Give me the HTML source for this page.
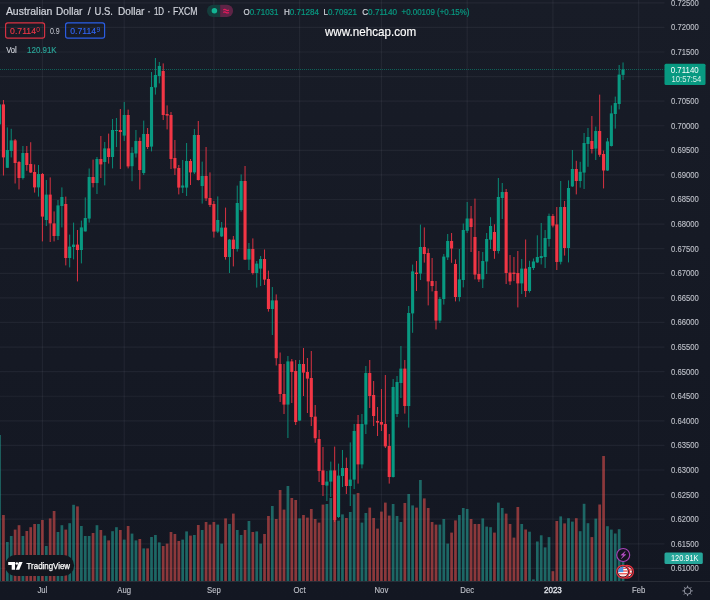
<!DOCTYPE html><html><head><meta charset="utf-8"><title>AUDUSD</title><style>html,body{margin:0;padding:0;background:#151924;}body{width:710px;height:600px;overflow:hidden}svg{display:block;will-change:transform}text{font-family:"Liberation Sans","DejaVu Sans",sans-serif}</style></head><body>
<svg width="710" height="600" viewBox="0 0 710 600">
<defs><linearGradient id="bg" x1="0" y1="0" x2="0" y2="1"><stop offset="0" stop-color="#181c27"/><stop offset="1" stop-color="#131722"/></linearGradient></defs>
<rect width="710" height="600" fill="url(#bg)"/>
<g stroke="#f0f3fa" stroke-opacity="0.055" stroke-width="1.2">
<line x1="0" y1="2.80" x2="664.5" y2="2.80"/>
<line x1="0" y1="27.39" x2="664.5" y2="27.39"/>
<line x1="0" y1="51.98" x2="664.5" y2="51.98"/>
<line x1="0" y1="76.57" x2="664.5" y2="76.57"/>
<line x1="0" y1="101.16" x2="664.5" y2="101.16"/>
<line x1="0" y1="125.75" x2="664.5" y2="125.75"/>
<line x1="0" y1="150.34" x2="664.5" y2="150.34"/>
<line x1="0" y1="174.93" x2="664.5" y2="174.93"/>
<line x1="0" y1="199.52" x2="664.5" y2="199.52"/>
<line x1="0" y1="224.11" x2="664.5" y2="224.11"/>
<line x1="0" y1="248.70" x2="664.5" y2="248.70"/>
<line x1="0" y1="273.29" x2="664.5" y2="273.29"/>
<line x1="0" y1="297.88" x2="664.5" y2="297.88"/>
<line x1="0" y1="322.47" x2="664.5" y2="322.47"/>
<line x1="0" y1="347.06" x2="664.5" y2="347.06"/>
<line x1="0" y1="371.65" x2="664.5" y2="371.65"/>
<line x1="0" y1="396.24" x2="664.5" y2="396.24"/>
<line x1="0" y1="420.83" x2="664.5" y2="420.83"/>
<line x1="0" y1="445.42" x2="664.5" y2="445.42"/>
<line x1="0" y1="470.01" x2="664.5" y2="470.01"/>
<line x1="0" y1="494.60" x2="664.5" y2="494.60"/>
<line x1="0" y1="519.19" x2="664.5" y2="519.19"/>
<line x1="0" y1="543.78" x2="664.5" y2="543.78"/>
<line x1="0" y1="568.37" x2="664.5" y2="568.37"/>
<line x1="42.40" y1="0" x2="42.40" y2="581.0"/>
<line x1="124.24" y1="0" x2="124.24" y2="581.0"/>
<line x1="213.87" y1="0" x2="213.87" y2="581.0"/>
<line x1="299.60" y1="0" x2="299.60" y2="581.0"/>
<line x1="381.44" y1="0" x2="381.44" y2="581.0"/>
<line x1="467.17" y1="0" x2="467.17" y2="581.0"/>
<line x1="552.91" y1="0" x2="552.91" y2="581.0"/>
<line x1="638.64" y1="0" x2="638.64" y2="581.0"/>
</g>
<g>
<rect x="-1.82" y="435.00" width="2.7" height="146.00" fill="#26a69a" fill-opacity="0.56"/>
<rect x="2.08" y="515.00" width="2.7" height="66.00" fill="#ef5350" fill-opacity="0.55"/>
<rect x="5.98" y="542.00" width="2.7" height="39.00" fill="#26a69a" fill-opacity="0.56"/>
<rect x="9.87" y="536.00" width="2.7" height="45.00" fill="#26a69a" fill-opacity="0.56"/>
<rect x="13.77" y="529.60" width="2.7" height="51.40" fill="#ef5350" fill-opacity="0.55"/>
<rect x="17.67" y="525.20" width="2.7" height="55.80" fill="#ef5350" fill-opacity="0.55"/>
<rect x="21.56" y="536.00" width="2.7" height="45.00" fill="#26a69a" fill-opacity="0.56"/>
<rect x="25.46" y="531.00" width="2.7" height="50.00" fill="#ef5350" fill-opacity="0.55"/>
<rect x="29.36" y="527.20" width="2.7" height="53.80" fill="#ef5350" fill-opacity="0.55"/>
<rect x="33.26" y="524.00" width="2.7" height="57.00" fill="#ef5350" fill-opacity="0.55"/>
<rect x="37.15" y="524.00" width="2.7" height="57.00" fill="#26a69a" fill-opacity="0.56"/>
<rect x="41.05" y="520.00" width="2.7" height="61.00" fill="#ef5350" fill-opacity="0.55"/>
<rect x="44.95" y="546.00" width="2.7" height="35.00" fill="#26a69a" fill-opacity="0.56"/>
<rect x="48.84" y="518.40" width="2.7" height="62.60" fill="#ef5350" fill-opacity="0.55"/>
<rect x="52.74" y="511.00" width="2.7" height="70.00" fill="#ef5350" fill-opacity="0.55"/>
<rect x="56.64" y="532.00" width="2.7" height="49.00" fill="#26a69a" fill-opacity="0.56"/>
<rect x="60.53" y="525.20" width="2.7" height="55.80" fill="#26a69a" fill-opacity="0.56"/>
<rect x="64.43" y="529.60" width="2.7" height="51.40" fill="#ef5350" fill-opacity="0.55"/>
<rect x="68.33" y="523.20" width="2.7" height="57.80" fill="#26a69a" fill-opacity="0.56"/>
<rect x="72.23" y="504.80" width="2.7" height="76.20" fill="#26a69a" fill-opacity="0.56"/>
<rect x="76.12" y="506.40" width="2.7" height="74.60" fill="#ef5350" fill-opacity="0.55"/>
<rect x="80.02" y="526.00" width="2.7" height="55.00" fill="#26a69a" fill-opacity="0.56"/>
<rect x="83.92" y="536.00" width="2.7" height="45.00" fill="#26a69a" fill-opacity="0.56"/>
<rect x="87.81" y="536.00" width="2.7" height="45.00" fill="#26a69a" fill-opacity="0.56"/>
<rect x="91.71" y="533.00" width="2.7" height="48.00" fill="#ef5350" fill-opacity="0.55"/>
<rect x="95.61" y="525.20" width="2.7" height="55.80" fill="#26a69a" fill-opacity="0.56"/>
<rect x="99.50" y="530.00" width="2.7" height="51.00" fill="#ef5350" fill-opacity="0.55"/>
<rect x="103.40" y="535.60" width="2.7" height="45.40" fill="#26a69a" fill-opacity="0.56"/>
<rect x="107.30" y="540.40" width="2.7" height="40.60" fill="#ef5350" fill-opacity="0.55"/>
<rect x="111.20" y="531.20" width="2.7" height="49.80" fill="#26a69a" fill-opacity="0.56"/>
<rect x="115.09" y="527.20" width="2.7" height="53.80" fill="#26a69a" fill-opacity="0.56"/>
<rect x="118.99" y="530.00" width="2.7" height="51.00" fill="#ef5350" fill-opacity="0.55"/>
<rect x="122.89" y="539.60" width="2.7" height="41.40" fill="#26a69a" fill-opacity="0.56"/>
<rect x="126.78" y="526.00" width="2.7" height="55.00" fill="#ef5350" fill-opacity="0.55"/>
<rect x="130.68" y="533.60" width="2.7" height="47.40" fill="#26a69a" fill-opacity="0.56"/>
<rect x="134.58" y="540.40" width="2.7" height="40.60" fill="#26a69a" fill-opacity="0.56"/>
<rect x="138.47" y="539.00" width="2.7" height="42.00" fill="#ef5350" fill-opacity="0.55"/>
<rect x="142.37" y="548.40" width="2.7" height="32.60" fill="#26a69a" fill-opacity="0.56"/>
<rect x="146.27" y="548.40" width="2.7" height="32.60" fill="#ef5350" fill-opacity="0.55"/>
<rect x="150.17" y="537.00" width="2.7" height="44.00" fill="#26a69a" fill-opacity="0.56"/>
<rect x="154.06" y="535.00" width="2.7" height="46.00" fill="#26a69a" fill-opacity="0.56"/>
<rect x="157.96" y="542.40" width="2.7" height="38.60" fill="#26a69a" fill-opacity="0.56"/>
<rect x="161.86" y="546.00" width="2.7" height="35.00" fill="#ef5350" fill-opacity="0.55"/>
<rect x="165.75" y="543.60" width="2.7" height="37.40" fill="#ef5350" fill-opacity="0.55"/>
<rect x="169.65" y="532.00" width="2.7" height="49.00" fill="#ef5350" fill-opacity="0.55"/>
<rect x="173.55" y="534.00" width="2.7" height="47.00" fill="#ef5350" fill-opacity="0.55"/>
<rect x="177.44" y="541.00" width="2.7" height="40.00" fill="#ef5350" fill-opacity="0.55"/>
<rect x="181.34" y="539.60" width="2.7" height="41.40" fill="#26a69a" fill-opacity="0.56"/>
<rect x="185.24" y="531.40" width="2.7" height="49.60" fill="#26a69a" fill-opacity="0.56"/>
<rect x="189.14" y="535.60" width="2.7" height="45.40" fill="#ef5350" fill-opacity="0.55"/>
<rect x="193.03" y="535.00" width="2.7" height="46.00" fill="#26a69a" fill-opacity="0.56"/>
<rect x="196.93" y="525.00" width="2.7" height="56.00" fill="#ef5350" fill-opacity="0.55"/>
<rect x="200.83" y="530.00" width="2.7" height="51.00" fill="#26a69a" fill-opacity="0.56"/>
<rect x="204.72" y="522.00" width="2.7" height="59.00" fill="#ef5350" fill-opacity="0.55"/>
<rect x="208.62" y="524.60" width="2.7" height="56.40" fill="#ef5350" fill-opacity="0.55"/>
<rect x="212.52" y="522.00" width="2.7" height="59.00" fill="#ef5350" fill-opacity="0.55"/>
<rect x="216.41" y="524.60" width="2.7" height="56.40" fill="#26a69a" fill-opacity="0.56"/>
<rect x="220.31" y="543.60" width="2.7" height="37.40" fill="#26a69a" fill-opacity="0.56"/>
<rect x="224.21" y="518.40" width="2.7" height="62.60" fill="#ef5350" fill-opacity="0.55"/>
<rect x="228.11" y="524.00" width="2.7" height="57.00" fill="#26a69a" fill-opacity="0.56"/>
<rect x="232.00" y="513.60" width="2.7" height="67.40" fill="#ef5350" fill-opacity="0.55"/>
<rect x="235.90" y="530.00" width="2.7" height="51.00" fill="#26a69a" fill-opacity="0.56"/>
<rect x="239.80" y="535.00" width="2.7" height="46.00" fill="#26a69a" fill-opacity="0.56"/>
<rect x="243.69" y="530.00" width="2.7" height="51.00" fill="#ef5350" fill-opacity="0.55"/>
<rect x="247.59" y="521.00" width="2.7" height="60.00" fill="#26a69a" fill-opacity="0.56"/>
<rect x="251.49" y="532.00" width="2.7" height="49.00" fill="#ef5350" fill-opacity="0.55"/>
<rect x="255.38" y="531.40" width="2.7" height="49.60" fill="#26a69a" fill-opacity="0.56"/>
<rect x="259.28" y="543.60" width="2.7" height="37.40" fill="#26a69a" fill-opacity="0.56"/>
<rect x="263.18" y="534.00" width="2.7" height="47.00" fill="#ef5350" fill-opacity="0.55"/>
<rect x="267.08" y="516.00" width="2.7" height="65.00" fill="#ef5350" fill-opacity="0.55"/>
<rect x="270.97" y="506.00" width="2.7" height="75.00" fill="#26a69a" fill-opacity="0.56"/>
<rect x="274.87" y="519.00" width="2.7" height="62.00" fill="#ef5350" fill-opacity="0.55"/>
<rect x="278.77" y="490.00" width="2.7" height="91.00" fill="#ef5350" fill-opacity="0.55"/>
<rect x="282.66" y="509.60" width="2.7" height="71.40" fill="#ef5350" fill-opacity="0.55"/>
<rect x="286.56" y="486.00" width="2.7" height="95.00" fill="#26a69a" fill-opacity="0.56"/>
<rect x="290.46" y="498.00" width="2.7" height="83.00" fill="#ef5350" fill-opacity="0.55"/>
<rect x="294.35" y="500.00" width="2.7" height="81.00" fill="#ef5350" fill-opacity="0.55"/>
<rect x="298.25" y="518.40" width="2.7" height="62.60" fill="#26a69a" fill-opacity="0.56"/>
<rect x="302.15" y="515.00" width="2.7" height="66.00" fill="#ef5350" fill-opacity="0.55"/>
<rect x="306.05" y="517.60" width="2.7" height="63.40" fill="#ef5350" fill-opacity="0.55"/>
<rect x="309.94" y="509.00" width="2.7" height="72.00" fill="#ef5350" fill-opacity="0.55"/>
<rect x="313.84" y="519.00" width="2.7" height="62.00" fill="#ef5350" fill-opacity="0.55"/>
<rect x="317.74" y="522.60" width="2.7" height="58.40" fill="#ef5350" fill-opacity="0.55"/>
<rect x="321.63" y="504.60" width="2.7" height="76.40" fill="#ef5350" fill-opacity="0.55"/>
<rect x="325.53" y="504.00" width="2.7" height="77.00" fill="#26a69a" fill-opacity="0.56"/>
<rect x="329.43" y="498.00" width="2.7" height="83.00" fill="#26a69a" fill-opacity="0.56"/>
<rect x="333.32" y="520.00" width="2.7" height="61.00" fill="#ef5350" fill-opacity="0.55"/>
<rect x="337.22" y="520.60" width="2.7" height="60.40" fill="#26a69a" fill-opacity="0.56"/>
<rect x="341.12" y="514.40" width="2.7" height="66.60" fill="#26a69a" fill-opacity="0.56"/>
<rect x="345.02" y="518.00" width="2.7" height="63.00" fill="#ef5350" fill-opacity="0.55"/>
<rect x="348.91" y="512.00" width="2.7" height="69.00" fill="#26a69a" fill-opacity="0.56"/>
<rect x="352.81" y="494.40" width="2.7" height="86.60" fill="#26a69a" fill-opacity="0.56"/>
<rect x="356.71" y="493.00" width="2.7" height="88.00" fill="#ef5350" fill-opacity="0.55"/>
<rect x="360.60" y="522.60" width="2.7" height="58.40" fill="#26a69a" fill-opacity="0.56"/>
<rect x="364.50" y="513.00" width="2.7" height="68.00" fill="#26a69a" fill-opacity="0.56"/>
<rect x="368.40" y="507.60" width="2.7" height="73.40" fill="#ef5350" fill-opacity="0.55"/>
<rect x="372.29" y="518.00" width="2.7" height="63.00" fill="#ef5350" fill-opacity="0.55"/>
<rect x="376.19" y="528.60" width="2.7" height="52.40" fill="#ef5350" fill-opacity="0.55"/>
<rect x="380.09" y="511.60" width="2.7" height="69.40" fill="#ef5350" fill-opacity="0.55"/>
<rect x="383.99" y="502.60" width="2.7" height="78.40" fill="#ef5350" fill-opacity="0.55"/>
<rect x="387.88" y="515.60" width="2.7" height="65.40" fill="#ef5350" fill-opacity="0.55"/>
<rect x="391.78" y="504.00" width="2.7" height="77.00" fill="#26a69a" fill-opacity="0.56"/>
<rect x="395.68" y="516.00" width="2.7" height="65.00" fill="#26a69a" fill-opacity="0.56"/>
<rect x="399.57" y="522.00" width="2.7" height="59.00" fill="#26a69a" fill-opacity="0.56"/>
<rect x="403.47" y="503.00" width="2.7" height="78.00" fill="#ef5350" fill-opacity="0.55"/>
<rect x="407.37" y="494.00" width="2.7" height="87.00" fill="#26a69a" fill-opacity="0.56"/>
<rect x="411.26" y="505.40" width="2.7" height="75.60" fill="#26a69a" fill-opacity="0.56"/>
<rect x="415.16" y="507.60" width="2.7" height="73.40" fill="#ef5350" fill-opacity="0.55"/>
<rect x="419.06" y="480.00" width="2.7" height="101.00" fill="#26a69a" fill-opacity="0.56"/>
<rect x="422.96" y="498.40" width="2.7" height="82.60" fill="#ef5350" fill-opacity="0.55"/>
<rect x="426.85" y="508.00" width="2.7" height="73.00" fill="#ef5350" fill-opacity="0.55"/>
<rect x="430.75" y="522.00" width="2.7" height="59.00" fill="#ef5350" fill-opacity="0.55"/>
<rect x="434.65" y="524.60" width="2.7" height="56.40" fill="#ef5350" fill-opacity="0.55"/>
<rect x="438.54" y="524.60" width="2.7" height="56.40" fill="#26a69a" fill-opacity="0.56"/>
<rect x="442.44" y="519.00" width="2.7" height="62.00" fill="#26a69a" fill-opacity="0.56"/>
<rect x="446.34" y="543.60" width="2.7" height="37.40" fill="#26a69a" fill-opacity="0.56"/>
<rect x="450.23" y="532.60" width="2.7" height="48.40" fill="#ef5350" fill-opacity="0.55"/>
<rect x="454.13" y="520.40" width="2.7" height="60.60" fill="#ef5350" fill-opacity="0.55"/>
<rect x="458.03" y="515.00" width="2.7" height="66.00" fill="#26a69a" fill-opacity="0.56"/>
<rect x="461.93" y="508.00" width="2.7" height="73.00" fill="#26a69a" fill-opacity="0.56"/>
<rect x="465.82" y="509.00" width="2.7" height="72.00" fill="#26a69a" fill-opacity="0.56"/>
<rect x="469.72" y="519.00" width="2.7" height="62.00" fill="#ef5350" fill-opacity="0.55"/>
<rect x="473.62" y="524.00" width="2.7" height="57.00" fill="#ef5350" fill-opacity="0.55"/>
<rect x="477.51" y="524.00" width="2.7" height="57.00" fill="#ef5350" fill-opacity="0.55"/>
<rect x="481.41" y="518.40" width="2.7" height="62.60" fill="#26a69a" fill-opacity="0.56"/>
<rect x="485.31" y="526.60" width="2.7" height="54.40" fill="#26a69a" fill-opacity="0.56"/>
<rect x="489.20" y="527.20" width="2.7" height="53.80" fill="#26a69a" fill-opacity="0.56"/>
<rect x="493.10" y="532.60" width="2.7" height="48.40" fill="#ef5350" fill-opacity="0.55"/>
<rect x="497.00" y="502.60" width="2.7" height="78.40" fill="#26a69a" fill-opacity="0.56"/>
<rect x="500.90" y="508.00" width="2.7" height="73.00" fill="#26a69a" fill-opacity="0.56"/>
<rect x="504.79" y="513.60" width="2.7" height="67.40" fill="#ef5350" fill-opacity="0.55"/>
<rect x="508.69" y="524.00" width="2.7" height="57.00" fill="#ef5350" fill-opacity="0.55"/>
<rect x="512.59" y="537.60" width="2.7" height="43.40" fill="#ef5350" fill-opacity="0.55"/>
<rect x="516.48" y="507.00" width="2.7" height="74.00" fill="#ef5350" fill-opacity="0.55"/>
<rect x="520.38" y="524.00" width="2.7" height="57.00" fill="#26a69a" fill-opacity="0.56"/>
<rect x="524.28" y="529.50" width="2.7" height="51.50" fill="#ef5350" fill-opacity="0.55"/>
<rect x="528.17" y="531.70" width="2.7" height="49.30" fill="#26a69a" fill-opacity="0.56"/>
<rect x="532.07" y="579.40" width="2.7" height="1.60" fill="#26a69a" fill-opacity="0.56"/>
<rect x="535.97" y="541.50" width="2.7" height="39.50" fill="#26a69a" fill-opacity="0.56"/>
<rect x="539.87" y="535.30" width="2.7" height="45.70" fill="#26a69a" fill-opacity="0.56"/>
<rect x="543.76" y="547.40" width="2.7" height="33.60" fill="#26a69a" fill-opacity="0.56"/>
<rect x="547.66" y="537.10" width="2.7" height="43.90" fill="#26a69a" fill-opacity="0.56"/>
<rect x="551.56" y="571.20" width="2.7" height="9.80" fill="#ef5350" fill-opacity="0.55"/>
<rect x="555.45" y="521.00" width="2.7" height="60.00" fill="#ef5350" fill-opacity="0.55"/>
<rect x="559.35" y="516.40" width="2.7" height="64.60" fill="#26a69a" fill-opacity="0.56"/>
<rect x="563.25" y="523.40" width="2.7" height="57.60" fill="#ef5350" fill-opacity="0.55"/>
<rect x="567.14" y="518.20" width="2.7" height="62.80" fill="#26a69a" fill-opacity="0.56"/>
<rect x="571.04" y="521.60" width="2.7" height="59.40" fill="#26a69a" fill-opacity="0.56"/>
<rect x="574.94" y="518.20" width="2.7" height="62.80" fill="#ef5350" fill-opacity="0.55"/>
<rect x="578.84" y="531.20" width="2.7" height="49.80" fill="#26a69a" fill-opacity="0.56"/>
<rect x="582.73" y="503.80" width="2.7" height="77.20" fill="#26a69a" fill-opacity="0.56"/>
<rect x="586.63" y="523.20" width="2.7" height="57.80" fill="#26a69a" fill-opacity="0.56"/>
<rect x="590.53" y="537.10" width="2.7" height="43.90" fill="#ef5350" fill-opacity="0.55"/>
<rect x="594.42" y="518.60" width="2.7" height="62.40" fill="#26a69a" fill-opacity="0.56"/>
<rect x="598.32" y="504.50" width="2.7" height="76.50" fill="#ef5350" fill-opacity="0.55"/>
<rect x="602.22" y="456.00" width="2.7" height="125.00" fill="#ef5350" fill-opacity="0.55"/>
<rect x="606.11" y="526.20" width="2.7" height="54.80" fill="#26a69a" fill-opacity="0.56"/>
<rect x="610.01" y="529.60" width="2.7" height="51.40" fill="#26a69a" fill-opacity="0.56"/>
<rect x="613.91" y="533.50" width="2.7" height="47.50" fill="#26a69a" fill-opacity="0.56"/>
<rect x="617.81" y="529.20" width="2.7" height="51.80" fill="#26a69a" fill-opacity="0.56"/>
<rect x="621.70" y="558.00" width="2.7" height="23.00" fill="#26a69a" fill-opacity="0.56"/>
</g>
<line x1="0" y1="69.5" x2="664.5" y2="69.5" stroke="#089981" stroke-width="1" stroke-dasharray="1 1" opacity="0.56"/>
<g>
<rect x="-0.97" y="100.00" width="1" height="30.00" fill="#089981" opacity="0.88"/>
<rect x="-2.02" y="104.40" width="3.1" height="20.00" fill="#089981"/>
<rect x="2.93" y="100.00" width="1" height="75.50" fill="#f23645" opacity="0.88"/>
<rect x="1.88" y="104.40" width="3.1" height="53.00" fill="#f23645"/>
<rect x="6.83" y="127.40" width="1" height="40.60" fill="#089981" opacity="0.88"/>
<rect x="5.78" y="150.00" width="3.1" height="17.80" fill="#089981"/>
<rect x="10.72" y="128.80" width="1" height="28.60" fill="#089981" opacity="0.88"/>
<rect x="9.67" y="140.40" width="3.1" height="10.60" fill="#089981"/>
<rect x="14.62" y="139.00" width="1" height="44.50" fill="#f23645" opacity="0.88"/>
<rect x="13.57" y="140.40" width="3.1" height="22.60" fill="#f23645"/>
<rect x="18.52" y="161.00" width="1" height="28.40" fill="#f23645" opacity="0.88"/>
<rect x="17.47" y="162.00" width="3.1" height="16.00" fill="#f23645"/>
<rect x="22.41" y="146.00" width="1" height="33.50" fill="#089981" opacity="0.88"/>
<rect x="21.36" y="153.00" width="3.1" height="25.00" fill="#089981"/>
<rect x="26.31" y="146.00" width="1" height="24.80" fill="#f23645" opacity="0.88"/>
<rect x="25.26" y="153.00" width="3.1" height="12.00" fill="#f23645"/>
<rect x="30.21" y="142.20" width="1" height="30.80" fill="#f23645" opacity="0.88"/>
<rect x="29.16" y="164.00" width="3.1" height="8.50" fill="#f23645"/>
<rect x="34.11" y="164.40" width="1" height="28.20" fill="#f23645" opacity="0.88"/>
<rect x="33.06" y="172.00" width="3.1" height="15.40" fill="#f23645"/>
<rect x="38.00" y="165.00" width="1" height="31.60" fill="#089981" opacity="0.88"/>
<rect x="36.95" y="174.00" width="3.1" height="13.40" fill="#089981"/>
<rect x="41.90" y="173.00" width="1" height="68.40" fill="#f23645" opacity="0.88"/>
<rect x="40.85" y="174.00" width="3.1" height="42.60" fill="#f23645"/>
<rect x="45.80" y="180.00" width="1" height="46.00" fill="#089981" opacity="0.88"/>
<rect x="44.75" y="194.60" width="3.1" height="25.40" fill="#089981"/>
<rect x="49.69" y="177.40" width="1" height="64.60" fill="#f23645" opacity="0.88"/>
<rect x="48.64" y="194.60" width="3.1" height="28.80" fill="#f23645"/>
<rect x="53.59" y="211.40" width="1" height="30.00" fill="#f23645" opacity="0.88"/>
<rect x="52.54" y="223.40" width="3.1" height="12.60" fill="#f23645"/>
<rect x="57.49" y="200.00" width="1" height="40.00" fill="#089981" opacity="0.88"/>
<rect x="56.44" y="205.40" width="3.1" height="30.60" fill="#089981"/>
<rect x="61.38" y="187.40" width="1" height="40.00" fill="#089981" opacity="0.88"/>
<rect x="60.34" y="197.00" width="3.1" height="9.00" fill="#089981"/>
<rect x="65.28" y="196.60" width="1" height="68.80" fill="#f23645" opacity="0.88"/>
<rect x="64.23" y="204.00" width="3.1" height="54.00" fill="#f23645"/>
<rect x="69.18" y="234.60" width="1" height="32.80" fill="#089981" opacity="0.88"/>
<rect x="68.13" y="246.60" width="3.1" height="11.40" fill="#089981"/>
<rect x="73.08" y="222.60" width="1" height="36.80" fill="#089981" opacity="0.88"/>
<rect x="72.03" y="244.60" width="3.1" height="2.40" fill="#089981"/>
<rect x="76.97" y="230.00" width="1" height="51.40" fill="#f23645" opacity="0.88"/>
<rect x="75.92" y="244.60" width="3.1" height="5.40" fill="#f23645"/>
<rect x="80.87" y="220.60" width="1" height="42.80" fill="#089981" opacity="0.88"/>
<rect x="79.82" y="227.40" width="3.1" height="22.60" fill="#089981"/>
<rect x="84.77" y="197.40" width="1" height="34.20" fill="#089981" opacity="0.88"/>
<rect x="83.72" y="218.00" width="3.1" height="13.40" fill="#089981"/>
<rect x="88.66" y="168.50" width="1" height="54.10" fill="#089981" opacity="0.88"/>
<rect x="87.61" y="177.00" width="3.1" height="41.60" fill="#089981"/>
<rect x="92.56" y="159.60" width="1" height="27.80" fill="#f23645" opacity="0.88"/>
<rect x="91.51" y="177.00" width="3.1" height="6.00" fill="#f23645"/>
<rect x="96.46" y="157.00" width="1" height="37.00" fill="#089981" opacity="0.88"/>
<rect x="95.41" y="159.00" width="3.1" height="24.00" fill="#089981"/>
<rect x="100.35" y="136.00" width="1" height="42.00" fill="#f23645" opacity="0.88"/>
<rect x="99.30" y="159.00" width="3.1" height="5.40" fill="#f23645"/>
<rect x="104.25" y="142.00" width="1" height="43.40" fill="#089981" opacity="0.88"/>
<rect x="103.20" y="148.40" width="3.1" height="13.60" fill="#089981"/>
<rect x="108.15" y="133.60" width="1" height="30.00" fill="#f23645" opacity="0.88"/>
<rect x="107.10" y="148.40" width="3.1" height="8.60" fill="#f23645"/>
<rect x="112.05" y="119.00" width="1" height="49.40" fill="#089981" opacity="0.88"/>
<rect x="111.00" y="130.00" width="3.1" height="27.00" fill="#089981"/>
<rect x="115.94" y="118.00" width="1" height="29.00" fill="#089981" opacity="0.88"/>
<rect x="114.89" y="130.00" width="3.1" height="1.00" fill="#089981"/>
<rect x="119.84" y="109.00" width="1" height="60.00" fill="#f23645" opacity="0.88"/>
<rect x="118.79" y="130.00" width="3.1" height="2.00" fill="#f23645"/>
<rect x="123.74" y="102.00" width="1" height="39.00" fill="#089981" opacity="0.88"/>
<rect x="122.69" y="115.00" width="3.1" height="20.60" fill="#089981"/>
<rect x="127.63" y="109.60" width="1" height="58.80" fill="#f23645" opacity="0.88"/>
<rect x="126.58" y="115.00" width="3.1" height="51.40" fill="#f23645"/>
<rect x="131.53" y="147.20" width="1" height="34.00" fill="#089981" opacity="0.88"/>
<rect x="130.48" y="152.80" width="3.1" height="13.40" fill="#089981"/>
<rect x="135.43" y="130.00" width="1" height="27.50" fill="#089981" opacity="0.88"/>
<rect x="134.38" y="141.00" width="3.1" height="12.50" fill="#089981"/>
<rect x="139.32" y="137.50" width="1" height="52.00" fill="#f23645" opacity="0.88"/>
<rect x="138.27" y="141.00" width="3.1" height="29.00" fill="#f23645"/>
<rect x="143.22" y="120.60" width="1" height="54.40" fill="#089981" opacity="0.88"/>
<rect x="142.17" y="134.00" width="3.1" height="39.00" fill="#089981"/>
<rect x="147.12" y="128.00" width="1" height="21.00" fill="#f23645" opacity="0.88"/>
<rect x="146.07" y="134.00" width="3.1" height="13.00" fill="#f23645"/>
<rect x="151.02" y="72.00" width="1" height="79.40" fill="#089981" opacity="0.88"/>
<rect x="149.97" y="87.00" width="3.1" height="59.60" fill="#089981"/>
<rect x="154.91" y="58.00" width="1" height="36.60" fill="#089981" opacity="0.88"/>
<rect x="153.86" y="75.00" width="3.1" height="12.40" fill="#089981"/>
<rect x="158.81" y="62.00" width="1" height="21.40" fill="#089981" opacity="0.88"/>
<rect x="157.76" y="66.00" width="3.1" height="10.00" fill="#089981"/>
<rect x="162.71" y="63.40" width="1" height="56.60" fill="#f23645" opacity="0.88"/>
<rect x="161.66" y="71.00" width="3.1" height="44.00" fill="#f23645"/>
<rect x="166.60" y="105.40" width="1" height="24.00" fill="#f23645" opacity="0.88"/>
<rect x="165.55" y="114.00" width="3.1" height="1.60" fill="#f23645"/>
<rect x="170.50" y="112.00" width="1" height="57.00" fill="#f23645" opacity="0.88"/>
<rect x="169.45" y="115.00" width="3.1" height="44.00" fill="#f23645"/>
<rect x="174.40" y="140.00" width="1" height="35.00" fill="#f23645" opacity="0.88"/>
<rect x="173.35" y="158.00" width="3.1" height="10.40" fill="#f23645"/>
<rect x="178.29" y="165.00" width="1" height="29.40" fill="#f23645" opacity="0.88"/>
<rect x="177.24" y="168.00" width="3.1" height="19.60" fill="#f23645"/>
<rect x="182.19" y="160.00" width="1" height="33.00" fill="#089981" opacity="0.88"/>
<rect x="181.14" y="185.50" width="3.1" height="2.10" fill="#089981"/>
<rect x="186.09" y="143.00" width="1" height="53.00" fill="#089981" opacity="0.88"/>
<rect x="185.04" y="161.00" width="3.1" height="26.60" fill="#089981"/>
<rect x="189.99" y="159.00" width="1" height="26.00" fill="#f23645" opacity="0.88"/>
<rect x="188.94" y="161.00" width="3.1" height="11.40" fill="#f23645"/>
<rect x="193.88" y="129.00" width="1" height="45.00" fill="#089981" opacity="0.88"/>
<rect x="192.83" y="135.00" width="3.1" height="37.40" fill="#089981"/>
<rect x="197.78" y="121.00" width="1" height="59.50" fill="#f23645" opacity="0.88"/>
<rect x="196.73" y="135.00" width="3.1" height="45.00" fill="#f23645"/>
<rect x="201.68" y="161.60" width="1" height="42.00" fill="#089981" opacity="0.88"/>
<rect x="200.63" y="176.00" width="3.1" height="10.00" fill="#089981"/>
<rect x="205.57" y="147.00" width="1" height="54.00" fill="#f23645" opacity="0.88"/>
<rect x="204.52" y="176.00" width="3.1" height="22.40" fill="#f23645"/>
<rect x="209.47" y="172.40" width="1" height="34.60" fill="#f23645" opacity="0.88"/>
<rect x="208.42" y="198.00" width="3.1" height="7.00" fill="#f23645"/>
<rect x="213.37" y="201.00" width="1" height="36.60" fill="#f23645" opacity="0.88"/>
<rect x="212.32" y="204.00" width="3.1" height="27.60" fill="#f23645"/>
<rect x="217.26" y="196.40" width="1" height="36.60" fill="#089981" opacity="0.88"/>
<rect x="216.21" y="220.00" width="3.1" height="11.60" fill="#089981"/>
<rect x="221.16" y="222.00" width="1" height="15.00" fill="#089981" opacity="0.88"/>
<rect x="220.11" y="227.60" width="3.1" height="8.80" fill="#089981"/>
<rect x="225.06" y="207.60" width="1" height="52.00" fill="#f23645" opacity="0.88"/>
<rect x="224.01" y="227.60" width="3.1" height="29.40" fill="#f23645"/>
<rect x="228.96" y="239.00" width="1" height="34.00" fill="#089981" opacity="0.88"/>
<rect x="227.91" y="239.60" width="3.1" height="17.40" fill="#089981"/>
<rect x="232.85" y="236.00" width="1" height="30.40" fill="#f23645" opacity="0.88"/>
<rect x="231.80" y="239.60" width="3.1" height="9.40" fill="#f23645"/>
<rect x="236.75" y="185.60" width="1" height="66.00" fill="#089981" opacity="0.88"/>
<rect x="235.70" y="203.00" width="3.1" height="46.00" fill="#089981"/>
<rect x="240.65" y="174.40" width="1" height="37.20" fill="#089981" opacity="0.88"/>
<rect x="239.60" y="181.00" width="3.1" height="29.00" fill="#089981"/>
<rect x="244.54" y="166.00" width="1" height="94.00" fill="#f23645" opacity="0.88"/>
<rect x="243.49" y="181.00" width="3.1" height="78.60" fill="#f23645"/>
<rect x="248.44" y="243.00" width="1" height="27.00" fill="#089981" opacity="0.88"/>
<rect x="247.39" y="249.00" width="3.1" height="10.60" fill="#089981"/>
<rect x="252.34" y="238.40" width="1" height="36.20" fill="#f23645" opacity="0.88"/>
<rect x="251.29" y="249.00" width="3.1" height="24.00" fill="#f23645"/>
<rect x="256.23" y="261.00" width="1" height="26.60" fill="#089981" opacity="0.88"/>
<rect x="255.18" y="263.60" width="3.1" height="9.40" fill="#089981"/>
<rect x="260.13" y="256.00" width="1" height="30.00" fill="#089981" opacity="0.88"/>
<rect x="259.08" y="259.00" width="3.1" height="9.60" fill="#089981"/>
<rect x="264.03" y="249.50" width="1" height="35.50" fill="#f23645" opacity="0.88"/>
<rect x="262.98" y="259.00" width="3.1" height="20.60" fill="#f23645"/>
<rect x="267.93" y="270.60" width="1" height="41.00" fill="#f23645" opacity="0.88"/>
<rect x="266.88" y="279.00" width="3.1" height="30.00" fill="#f23645"/>
<rect x="271.82" y="287.00" width="1" height="48.00" fill="#089981" opacity="0.88"/>
<rect x="270.77" y="300.40" width="3.1" height="8.60" fill="#089981"/>
<rect x="275.72" y="294.40" width="1" height="71.10" fill="#f23645" opacity="0.88"/>
<rect x="274.67" y="300.40" width="3.1" height="57.80" fill="#f23645"/>
<rect x="279.62" y="352.50" width="1" height="49.50" fill="#f23645" opacity="0.88"/>
<rect x="278.57" y="364.00" width="3.1" height="30.00" fill="#f23645"/>
<rect x="283.51" y="364.00" width="1" height="50.00" fill="#f23645" opacity="0.88"/>
<rect x="282.46" y="394.00" width="3.1" height="10.60" fill="#f23645"/>
<rect x="287.41" y="356.00" width="1" height="82.00" fill="#089981" opacity="0.88"/>
<rect x="286.36" y="361.40" width="3.1" height="43.20" fill="#089981"/>
<rect x="291.31" y="359.00" width="1" height="44.00" fill="#f23645" opacity="0.88"/>
<rect x="290.26" y="361.40" width="3.1" height="10.60" fill="#f23645"/>
<rect x="295.20" y="360.00" width="1" height="65.00" fill="#f23645" opacity="0.88"/>
<rect x="294.15" y="371.00" width="3.1" height="51.00" fill="#f23645"/>
<rect x="299.10" y="360.00" width="1" height="61.00" fill="#089981" opacity="0.88"/>
<rect x="298.05" y="364.00" width="3.1" height="56.60" fill="#089981"/>
<rect x="303.00" y="348.00" width="1" height="48.00" fill="#f23645" opacity="0.88"/>
<rect x="301.95" y="364.00" width="3.1" height="8.60" fill="#f23645"/>
<rect x="306.90" y="358.00" width="1" height="55.00" fill="#f23645" opacity="0.88"/>
<rect x="305.85" y="372.00" width="3.1" height="6.60" fill="#f23645"/>
<rect x="310.79" y="351.00" width="1" height="75.00" fill="#f23645" opacity="0.88"/>
<rect x="309.74" y="378.00" width="3.1" height="39.00" fill="#f23645"/>
<rect x="314.69" y="405.00" width="1" height="37.80" fill="#f23645" opacity="0.88"/>
<rect x="313.64" y="416.60" width="3.1" height="21.60" fill="#f23645"/>
<rect x="318.59" y="430.00" width="1" height="52.00" fill="#f23645" opacity="0.88"/>
<rect x="317.54" y="439.00" width="3.1" height="32.00" fill="#f23645"/>
<rect x="322.48" y="447.00" width="1" height="49.00" fill="#f23645" opacity="0.88"/>
<rect x="321.43" y="470.40" width="3.1" height="14.60" fill="#f23645"/>
<rect x="326.38" y="471.00" width="1" height="30.00" fill="#089981" opacity="0.88"/>
<rect x="325.33" y="481.60" width="3.1" height="4.00" fill="#089981"/>
<rect x="330.28" y="461.60" width="1" height="35.40" fill="#089981" opacity="0.88"/>
<rect x="329.23" y="470.40" width="3.1" height="11.20" fill="#089981"/>
<rect x="334.17" y="446.60" width="1" height="75.40" fill="#f23645" opacity="0.88"/>
<rect x="333.12" y="470.40" width="3.1" height="49.60" fill="#f23645"/>
<rect x="338.07" y="463.60" width="1" height="54.40" fill="#089981" opacity="0.88"/>
<rect x="337.02" y="475.60" width="3.1" height="41.40" fill="#089981"/>
<rect x="341.97" y="450.00" width="1" height="37.00" fill="#089981" opacity="0.88"/>
<rect x="340.92" y="468.00" width="3.1" height="8.00" fill="#089981"/>
<rect x="345.87" y="457.60" width="1" height="36.40" fill="#f23645" opacity="0.88"/>
<rect x="344.82" y="468.00" width="3.1" height="18.00" fill="#f23645"/>
<rect x="349.76" y="442.40" width="1" height="63.60" fill="#089981" opacity="0.88"/>
<rect x="348.71" y="479.60" width="3.1" height="6.40" fill="#089981"/>
<rect x="353.66" y="424.00" width="1" height="65.00" fill="#089981" opacity="0.88"/>
<rect x="352.61" y="431.00" width="3.1" height="48.60" fill="#089981"/>
<rect x="357.56" y="415.00" width="1" height="68.60" fill="#f23645" opacity="0.88"/>
<rect x="356.51" y="424.00" width="3.1" height="40.40" fill="#f23645"/>
<rect x="361.45" y="414.00" width="1" height="54.40" fill="#089981" opacity="0.88"/>
<rect x="360.40" y="424.00" width="3.1" height="40.40" fill="#089981"/>
<rect x="365.35" y="366.00" width="1" height="68.00" fill="#089981" opacity="0.88"/>
<rect x="364.30" y="373.00" width="3.1" height="51.50" fill="#089981"/>
<rect x="369.25" y="360.00" width="1" height="48.00" fill="#f23645" opacity="0.88"/>
<rect x="368.20" y="373.00" width="3.1" height="23.00" fill="#f23645"/>
<rect x="373.14" y="381.00" width="1" height="45.00" fill="#f23645" opacity="0.88"/>
<rect x="372.09" y="395.00" width="3.1" height="21.00" fill="#f23645"/>
<rect x="377.04" y="407.00" width="1" height="29.00" fill="#f23645" opacity="0.88"/>
<rect x="375.99" y="421.00" width="3.1" height="1.60" fill="#f23645"/>
<rect x="380.94" y="389.00" width="1" height="42.00" fill="#f23645" opacity="0.88"/>
<rect x="379.89" y="422.00" width="3.1" height="2.60" fill="#f23645"/>
<rect x="384.84" y="375.00" width="1" height="73.00" fill="#f23645" opacity="0.88"/>
<rect x="383.79" y="424.00" width="3.1" height="22.40" fill="#f23645"/>
<rect x="388.73" y="434.00" width="1" height="49.60" fill="#f23645" opacity="0.88"/>
<rect x="387.68" y="446.00" width="3.1" height="31.00" fill="#f23645"/>
<rect x="392.63" y="379.00" width="1" height="98.50" fill="#089981" opacity="0.88"/>
<rect x="391.58" y="387.00" width="3.1" height="90.00" fill="#089981"/>
<rect x="396.53" y="376.00" width="1" height="41.00" fill="#089981" opacity="0.88"/>
<rect x="395.48" y="382.00" width="3.1" height="32.00" fill="#089981"/>
<rect x="400.42" y="346.00" width="1" height="52.00" fill="#089981" opacity="0.88"/>
<rect x="399.37" y="368.60" width="3.1" height="14.40" fill="#089981"/>
<rect x="404.32" y="360.00" width="1" height="53.60" fill="#f23645" opacity="0.88"/>
<rect x="403.27" y="368.60" width="3.1" height="37.40" fill="#f23645"/>
<rect x="408.22" y="306.00" width="1" height="121.60" fill="#089981" opacity="0.88"/>
<rect x="407.17" y="313.00" width="3.1" height="93.00" fill="#089981"/>
<rect x="412.11" y="264.60" width="1" height="68.20" fill="#089981" opacity="0.88"/>
<rect x="411.06" y="271.40" width="3.1" height="42.00" fill="#089981"/>
<rect x="416.01" y="261.00" width="1" height="30.00" fill="#f23645" opacity="0.88"/>
<rect x="414.96" y="272.60" width="3.1" height="1.40" fill="#f23645"/>
<rect x="419.91" y="224.60" width="1" height="55.40" fill="#089981" opacity="0.88"/>
<rect x="418.86" y="247.00" width="3.1" height="26.60" fill="#089981"/>
<rect x="423.81" y="227.40" width="1" height="35.20" fill="#f23645" opacity="0.88"/>
<rect x="422.76" y="247.00" width="3.1" height="7.00" fill="#f23645"/>
<rect x="427.70" y="248.60" width="1" height="56.80" fill="#f23645" opacity="0.88"/>
<rect x="426.65" y="253.00" width="3.1" height="28.40" fill="#f23645"/>
<rect x="431.60" y="258.00" width="1" height="33.40" fill="#f23645" opacity="0.88"/>
<rect x="430.55" y="281.00" width="3.1" height="5.00" fill="#f23645"/>
<rect x="435.50" y="281.00" width="1" height="48.40" fill="#f23645" opacity="0.88"/>
<rect x="434.45" y="291.00" width="3.1" height="29.60" fill="#f23645"/>
<rect x="439.39" y="297.00" width="1" height="26.00" fill="#089981" opacity="0.88"/>
<rect x="438.34" y="299.00" width="3.1" height="21.60" fill="#089981"/>
<rect x="443.29" y="254.00" width="1" height="50.60" fill="#089981" opacity="0.88"/>
<rect x="442.24" y="256.60" width="3.1" height="42.40" fill="#089981"/>
<rect x="447.19" y="234.00" width="1" height="26.00" fill="#089981" opacity="0.88"/>
<rect x="446.14" y="241.00" width="3.1" height="16.40" fill="#089981"/>
<rect x="451.08" y="233.00" width="1" height="29.80" fill="#f23645" opacity="0.88"/>
<rect x="450.03" y="241.00" width="3.1" height="7.50" fill="#f23645"/>
<rect x="454.98" y="259.40" width="1" height="42.00" fill="#f23645" opacity="0.88"/>
<rect x="453.93" y="264.00" width="3.1" height="33.00" fill="#f23645"/>
<rect x="458.88" y="249.00" width="1" height="52.40" fill="#089981" opacity="0.88"/>
<rect x="457.83" y="279.40" width="3.1" height="17.60" fill="#089981"/>
<rect x="462.78" y="223.50" width="1" height="63.90" fill="#089981" opacity="0.88"/>
<rect x="461.73" y="230.00" width="3.1" height="50.00" fill="#089981"/>
<rect x="466.67" y="202.00" width="1" height="31.00" fill="#089981" opacity="0.88"/>
<rect x="465.62" y="218.50" width="3.1" height="12.30" fill="#089981"/>
<rect x="470.57" y="206.00" width="1" height="46.00" fill="#f23645" opacity="0.88"/>
<rect x="469.52" y="218.50" width="3.1" height="8.50" fill="#f23645"/>
<rect x="474.47" y="198.60" width="1" height="80.80" fill="#f23645" opacity="0.88"/>
<rect x="473.42" y="237.00" width="3.1" height="37.60" fill="#f23645"/>
<rect x="478.36" y="251.00" width="1" height="31.00" fill="#f23645" opacity="0.88"/>
<rect x="477.31" y="274.00" width="3.1" height="5.40" fill="#f23645"/>
<rect x="482.26" y="252.00" width="1" height="36.00" fill="#089981" opacity="0.88"/>
<rect x="481.21" y="261.00" width="3.1" height="18.40" fill="#089981"/>
<rect x="486.16" y="233.00" width="1" height="41.00" fill="#089981" opacity="0.88"/>
<rect x="485.11" y="239.00" width="3.1" height="22.50" fill="#089981"/>
<rect x="490.05" y="217.20" width="1" height="31.80" fill="#089981" opacity="0.88"/>
<rect x="489.00" y="226.00" width="3.1" height="13.70" fill="#089981"/>
<rect x="493.95" y="224.30" width="1" height="34.50" fill="#f23645" opacity="0.88"/>
<rect x="492.90" y="232.00" width="3.1" height="19.00" fill="#f23645"/>
<rect x="497.85" y="178.00" width="1" height="75.50" fill="#089981" opacity="0.88"/>
<rect x="496.80" y="197.00" width="3.1" height="54.00" fill="#089981"/>
<rect x="501.75" y="183.00" width="1" height="36.00" fill="#089981" opacity="0.88"/>
<rect x="500.70" y="192.00" width="3.1" height="6.00" fill="#089981"/>
<rect x="505.64" y="189.00" width="1" height="95.00" fill="#f23645" opacity="0.88"/>
<rect x="504.59" y="192.00" width="3.1" height="81.00" fill="#f23645"/>
<rect x="509.54" y="255.00" width="1" height="30.00" fill="#f23645" opacity="0.88"/>
<rect x="508.49" y="272.60" width="3.1" height="8.80" fill="#f23645"/>
<rect x="513.44" y="257.00" width="1" height="24.00" fill="#f23645" opacity="0.88"/>
<rect x="512.39" y="272.60" width="3.1" height="1.40" fill="#f23645"/>
<rect x="517.33" y="251.00" width="1" height="56.40" fill="#f23645" opacity="0.88"/>
<rect x="516.28" y="273.00" width="3.1" height="10.40" fill="#f23645"/>
<rect x="521.23" y="259.00" width="1" height="35.00" fill="#089981" opacity="0.88"/>
<rect x="520.18" y="268.60" width="3.1" height="14.80" fill="#089981"/>
<rect x="525.13" y="239.50" width="1" height="57.50" fill="#f23645" opacity="0.88"/>
<rect x="524.08" y="268.60" width="3.1" height="22.40" fill="#f23645"/>
<rect x="529.02" y="260.80" width="1" height="31.80" fill="#089981" opacity="0.88"/>
<rect x="527.98" y="267.00" width="3.1" height="24.00" fill="#089981"/>
<rect x="532.92" y="258.50" width="1" height="11.50" fill="#089981" opacity="0.88"/>
<rect x="531.87" y="261.50" width="3.1" height="6.50" fill="#089981"/>
<rect x="536.82" y="235.30" width="1" height="27.70" fill="#089981" opacity="0.88"/>
<rect x="535.77" y="257.00" width="3.1" height="5.40" fill="#089981"/>
<rect x="540.72" y="223.00" width="1" height="41.40" fill="#089981" opacity="0.88"/>
<rect x="539.67" y="256.00" width="3.1" height="2.00" fill="#089981"/>
<rect x="544.61" y="230.00" width="1" height="38.00" fill="#089981" opacity="0.88"/>
<rect x="543.56" y="238.00" width="3.1" height="19.00" fill="#089981"/>
<rect x="548.51" y="213.60" width="1" height="33.00" fill="#089981" opacity="0.88"/>
<rect x="547.46" y="216.00" width="3.1" height="23.00" fill="#089981"/>
<rect x="552.41" y="214.00" width="1" height="13.40" fill="#f23645" opacity="0.88"/>
<rect x="551.36" y="216.00" width="3.1" height="9.60" fill="#f23645"/>
<rect x="556.30" y="207.00" width="1" height="63.00" fill="#f23645" opacity="0.88"/>
<rect x="555.25" y="224.40" width="3.1" height="37.60" fill="#f23645"/>
<rect x="560.20" y="181.00" width="1" height="83.40" fill="#089981" opacity="0.88"/>
<rect x="559.15" y="207.00" width="3.1" height="54.80" fill="#089981"/>
<rect x="564.10" y="201.00" width="1" height="54.60" fill="#f23645" opacity="0.88"/>
<rect x="563.05" y="207.00" width="3.1" height="41.00" fill="#f23645"/>
<rect x="568.00" y="180.40" width="1" height="82.00" fill="#089981" opacity="0.88"/>
<rect x="566.95" y="188.00" width="3.1" height="60.00" fill="#089981"/>
<rect x="571.89" y="150.00" width="1" height="37.00" fill="#089981" opacity="0.88"/>
<rect x="570.84" y="169.00" width="3.1" height="17.40" fill="#089981"/>
<rect x="575.79" y="160.80" width="1" height="33.60" fill="#f23645" opacity="0.88"/>
<rect x="574.74" y="169.00" width="3.1" height="12.00" fill="#f23645"/>
<rect x="579.69" y="161.80" width="1" height="25.80" fill="#089981" opacity="0.88"/>
<rect x="578.64" y="171.80" width="3.1" height="9.20" fill="#089981"/>
<rect x="583.58" y="133.00" width="1" height="56.00" fill="#089981" opacity="0.88"/>
<rect x="582.53" y="143.00" width="3.1" height="29.60" fill="#089981"/>
<rect x="587.48" y="128.00" width="1" height="38.80" fill="#089981" opacity="0.88"/>
<rect x="586.43" y="137.00" width="3.1" height="7.00" fill="#089981"/>
<rect x="591.38" y="116.00" width="1" height="37.50" fill="#f23645" opacity="0.88"/>
<rect x="590.33" y="141.00" width="3.1" height="8.00" fill="#f23645"/>
<rect x="595.27" y="126.60" width="1" height="33.40" fill="#089981" opacity="0.88"/>
<rect x="594.22" y="131.00" width="3.1" height="17.60" fill="#089981"/>
<rect x="599.17" y="94.60" width="1" height="62.20" fill="#f23645" opacity="0.88"/>
<rect x="598.12" y="131.00" width="3.1" height="23.80" fill="#f23645"/>
<rect x="603.07" y="150.60" width="1" height="37.80" fill="#f23645" opacity="0.88"/>
<rect x="602.02" y="154.00" width="3.1" height="16.50" fill="#f23645"/>
<rect x="606.96" y="138.00" width="1" height="33.00" fill="#089981" opacity="0.88"/>
<rect x="605.91" y="141.40" width="3.1" height="29.10" fill="#089981"/>
<rect x="610.86" y="105.40" width="1" height="41.10" fill="#089981" opacity="0.88"/>
<rect x="609.81" y="113.40" width="3.1" height="32.60" fill="#089981"/>
<rect x="614.76" y="96.60" width="1" height="32.00" fill="#089981" opacity="0.88"/>
<rect x="613.71" y="103.00" width="3.1" height="11.00" fill="#089981"/>
<rect x="618.66" y="65.00" width="1" height="44.40" fill="#089981" opacity="0.88"/>
<rect x="617.61" y="74.60" width="3.1" height="29.40" fill="#089981"/>
<rect x="622.55" y="62.45" width="1" height="17.55" fill="#089981" opacity="0.88"/>
<rect x="621.50" y="69.50" width="3.1" height="5.40" fill="#089981"/>
</g>
<line x1="0" y1="581.5" x2="710" y2="581.5" stroke="#f0f3fa" stroke-opacity="0.1" stroke-width="1"/>
<g font-size="8.5" fill="#bec1c9" stroke="#bec1c9" stroke-width="0.1">
<text x="671" y="5.70" textLength="27.8" lengthAdjust="spacingAndGlyphs">0.72500</text>
<text x="671" y="30.29" textLength="27.8" lengthAdjust="spacingAndGlyphs">0.72000</text>
<text x="671" y="54.88" textLength="27.8" lengthAdjust="spacingAndGlyphs">0.71500</text>
<text x="671" y="79.47" textLength="27.8" lengthAdjust="spacingAndGlyphs">0.71000</text>
<text x="671" y="104.06" textLength="27.8" lengthAdjust="spacingAndGlyphs">0.70500</text>
<text x="671" y="128.65" textLength="27.8" lengthAdjust="spacingAndGlyphs">0.70000</text>
<text x="671" y="153.24" textLength="27.8" lengthAdjust="spacingAndGlyphs">0.69500</text>
<text x="671" y="177.83" textLength="27.8" lengthAdjust="spacingAndGlyphs">0.69000</text>
<text x="671" y="202.42" textLength="27.8" lengthAdjust="spacingAndGlyphs">0.68500</text>
<text x="671" y="227.01" textLength="27.8" lengthAdjust="spacingAndGlyphs">0.68000</text>
<text x="671" y="251.60" textLength="27.8" lengthAdjust="spacingAndGlyphs">0.67500</text>
<text x="671" y="276.19" textLength="27.8" lengthAdjust="spacingAndGlyphs">0.67000</text>
<text x="671" y="300.78" textLength="27.8" lengthAdjust="spacingAndGlyphs">0.66500</text>
<text x="671" y="325.37" textLength="27.8" lengthAdjust="spacingAndGlyphs">0.66000</text>
<text x="671" y="349.96" textLength="27.8" lengthAdjust="spacingAndGlyphs">0.65500</text>
<text x="671" y="374.55" textLength="27.8" lengthAdjust="spacingAndGlyphs">0.65000</text>
<text x="671" y="399.14" textLength="27.8" lengthAdjust="spacingAndGlyphs">0.64500</text>
<text x="671" y="423.73" textLength="27.8" lengthAdjust="spacingAndGlyphs">0.64000</text>
<text x="671" y="448.32" textLength="27.8" lengthAdjust="spacingAndGlyphs">0.63500</text>
<text x="671" y="472.91" textLength="27.8" lengthAdjust="spacingAndGlyphs">0.63000</text>
<text x="671" y="497.50" textLength="27.8" lengthAdjust="spacingAndGlyphs">0.62500</text>
<text x="671" y="522.09" textLength="27.8" lengthAdjust="spacingAndGlyphs">0.62000</text>
<text x="671" y="546.68" textLength="27.8" lengthAdjust="spacingAndGlyphs">0.61500</text>
<text x="671" y="571.27" textLength="27.8" lengthAdjust="spacingAndGlyphs">0.61000</text>
</g>
<rect x="664.5" y="63.7" width="41" height="21.2" rx="1.5" fill="#089981"/>
<text x="670.8" y="72.5" font-size="8.2" fill="#ffffff" textLength="27.9" lengthAdjust="spacingAndGlyphs">0.71140</text>
<text x="671.5" y="82.1" font-size="8.2" fill="#d6efe9" textLength="29.8" lengthAdjust="spacingAndGlyphs">10:57:54</text>
<rect x="664.5" y="552.4" width="38.3" height="11.5" rx="1.5" fill="#26a69a"/>
<text x="671" y="561.1" font-size="8.2" fill="#ffffff" textLength="27.5" lengthAdjust="spacingAndGlyphs">120.91K</text>
<g font-size="8.4" fill="#c0c3cb" stroke="#c0c3cb" stroke-width="0.12" text-anchor="middle">
<text transform="translate(42.4 592.8) scale(0.92 1)">Jul</text>
<text transform="translate(124.2 592.8) scale(0.92 1)">Aug</text>
<text transform="translate(213.9 592.8) scale(0.92 1)">Sep</text>
<text transform="translate(299.6 592.8) scale(0.92 1)">Oct</text>
<text transform="translate(381.4 592.8) scale(0.92 1)">Nov</text>
<text transform="translate(467.2 592.8) scale(0.92 1)">Dec</text>
<text transform="translate(638.6 592.8) scale(0.92 1)">Feb</text>
</g>
<text x="544" y="592.8" font-size="8.4" fill="#dcdfe6" stroke="#dcdfe6" stroke-width="0.4" textLength="17.8" lengthAdjust="spacingAndGlyphs">2023</text>
<g transform="translate(687.6 590.9)" fill="none" stroke="#a0a4b0" stroke-width="0.9"><circle r="3.3"/>
<line x1="3.30" y1="0.00" x2="5.20" y2="0.00"/>
<line x1="2.33" y1="2.33" x2="3.68" y2="3.68"/>
<line x1="0.00" y1="3.30" x2="0.00" y2="5.20"/>
<line x1="-2.33" y1="2.33" x2="-3.68" y2="3.68"/>
<line x1="-3.30" y1="0.00" x2="-5.20" y2="0.00"/>
<line x1="-2.33" y1="-2.33" x2="-3.68" y2="-3.68"/>
<line x1="-0.00" y1="-3.30" x2="-0.00" y2="-5.20"/>
<line x1="2.33" y1="-2.33" x2="3.68" y2="-3.68"/>
</g>
<g font-size="10.5" fill="#d1d4dc" stroke="#d1d4dc" stroke-width="0.2">
<text x="5.9" y="14.75" textLength="46.5" lengthAdjust="spacingAndGlyphs">Australian</text>
<text x="56.1" y="14.75" textLength="26.3" lengthAdjust="spacingAndGlyphs">Dollar</text>
<text x="89.15" y="14.75" text-anchor="middle">/</text>
<text x="94.6" y="14.75" textLength="18.4" lengthAdjust="spacingAndGlyphs">U.S.</text>
<text x="118" y="14.75" textLength="26.4" lengthAdjust="spacingAndGlyphs">Dollar</text>
<text x="148.95" y="14.75" text-anchor="middle">·</text>
<text x="153.9" y="14.75" textLength="10.2" lengthAdjust="spacingAndGlyphs">1D</text>
<text x="168.65" y="14.75" text-anchor="middle">·</text>
<text x="173" y="14.75" textLength="24.5" lengthAdjust="spacingAndGlyphs">FXCM</text>
</g>
<g><path d="M213.1 4.8h7v12.2h-7a6.1 6.1 0 0 1 0-12.2z" fill="#143d3c"/><path d="M220.1 4.8h6.9a6.1 6.1 0 0 1 0 12.2h-6.9z" fill="#5e2446"/><circle cx="214.4" cy="10.85" r="2.75" fill="#12b594"/>
<path d="M223.3 10q1.4-1.1 2.8 0t2.8 0M223.3 12.4q1.4-1.1 2.8 0t2.8 0" fill="none" stroke="#e8195e" stroke-width="1.25"/></g>
<text x="243.5" y="15" font-size="8.8" stroke-width="0.2" textLength="35.0" lengthAdjust="spacingAndGlyphs"><tspan fill="#d1d4dc" stroke="#d1d4dc">O</tspan><tspan fill="#089981" stroke="#089981">0.71031</tspan></text>
<text x="284" y="15" font-size="8.8" stroke-width="0.2" textLength="35.0" lengthAdjust="spacingAndGlyphs"><tspan fill="#d1d4dc" stroke="#d1d4dc">H</tspan><tspan fill="#089981" stroke="#089981">0.71284</tspan></text>
<text x="323.4" y="15" font-size="8.8" stroke-width="0.2" textLength="33.6" lengthAdjust="spacingAndGlyphs"><tspan fill="#d1d4dc" stroke="#d1d4dc">L</tspan><tspan fill="#089981" stroke="#089981">0.70921</tspan></text>
<text x="362.2" y="15" font-size="8.8" stroke-width="0.2" textLength="34.8" lengthAdjust="spacingAndGlyphs"><tspan fill="#d1d4dc" stroke="#d1d4dc">C</tspan><tspan fill="#089981" stroke="#089981">0.71140</tspan></text>
<text x="401.5" y="15" font-size="8.8" fill="#089981" stroke="#089981" stroke-width="0.2" textLength="68" lengthAdjust="spacingAndGlyphs">+0.00109 (+0.15%)</text>
<rect x="5.6" y="22.9" width="39" height="15.2" rx="2.2" fill="none" stroke="#d93343" stroke-width="1.15"/>
<text x="10.1" y="33.9" font-size="9.1" fill="#f23645" stroke="#f23645" stroke-width="0.15" textLength="25.9" lengthAdjust="spacingAndGlyphs">0.7114</text>
<text x="36.3" y="32.4" font-size="7" fill="#f23645" textLength="3.7" lengthAdjust="spacingAndGlyphs">0</text>
<text x="49.9" y="33.7" font-size="8.6" fill="#c8cbd3" textLength="9.8" lengthAdjust="spacingAndGlyphs">0.9</text>
<rect x="65.6" y="22.9" width="39" height="15.2" rx="2.2" fill="none" stroke="#2a5fe6" stroke-width="1.15"/>
<text x="70.3" y="33.9" font-size="9.1" fill="#2f66f5" stroke="#2f66f5" stroke-width="0.15" textLength="25.9" lengthAdjust="spacingAndGlyphs">0.7114</text>
<text x="96.5" y="32.4" font-size="7" fill="#2f66f5" textLength="3.7" lengthAdjust="spacingAndGlyphs">9</text>
<text x="6.2" y="52.9" font-size="9" fill="#d1d4dc" stroke="#d1d4dc" stroke-width="0.15" textLength="10.6" lengthAdjust="spacingAndGlyphs">Vol</text>
<text x="27.1" y="52.9" font-size="9" fill="#2aa699" stroke="#2aa699" stroke-width="0.15" textLength="29.5" lengthAdjust="spacingAndGlyphs">120.91K</text>
<text x="324.9" y="35.7" stroke="#ffffff" stroke-width="0.15" font-size="13" fill="#ffffff" textLength="91.3" lengthAdjust="spacingAndGlyphs">www.nehcap.com</text>
<rect x="5.1" y="555" width="69" height="21" rx="10.5" fill="#12151d"/>
<g fill="#ffffff"><path d="M8.2 562.1h6.8v7.6h-3.3v-4.7H8.2z"/><circle cx="16.8" cy="563.5" r="1.35"/><path d="M19 562.1h3.6l-3.3 7.6h-3.5z"/></g>
<text x="26.6" y="569.4" font-size="8.6" fill="#ffffff" stroke="#ffffff" stroke-width="0.25" textLength="43.4" lengthAdjust="spacingAndGlyphs">TradingView</text>
<g><circle cx="623.2" cy="555" r="6.5" fill="#15131f" stroke="#a742b8" stroke-width="1.15"/><path d="M625.3 551.3l-4.5 3.9h2.7l-2.3 3.6 4.8-4.3h-2.7z" fill="#c455d6" stroke="#c455d6" stroke-width="0.3" stroke-linejoin="round"/></g>
<g><circle cx="627" cy="571.7" r="6.4" fill="#151924" stroke="#e8303f" stroke-width="1.3"/><circle cx="627" cy="571.7" r="4.9" fill="#fbe9ea"/><rect x="627" y="569.2" width="5" height="1.4" fill="#f0524f"/><rect x="627" y="572.6" width="5" height="1.4" fill="#f0524f"/>
<circle cx="623" cy="571.7" r="6.4" fill="#151924" stroke="#e8303f" stroke-width="1.3"/>
<clipPath id="fc"><circle cx="623" cy="571.7" r="4.9"/></clipPath><g clip-path="url(#fc)"><rect x="617" y="566" width="12" height="12" fill="#ffffff"/>
<rect x="617" y="567.60" width="12" height="1.35" fill="#f0524f"/>
<rect x="617" y="570.35" width="12" height="1.35" fill="#f0524f"/>
<rect x="617" y="573.10" width="12" height="1.35" fill="#f0524f"/>
<rect x="617" y="575.85" width="12" height="1.35" fill="#f0524f"/>
<rect x="617" y="566" width="6.3" height="6.1" fill="#4b8fe0"/></g></g>
</svg></body></html>
